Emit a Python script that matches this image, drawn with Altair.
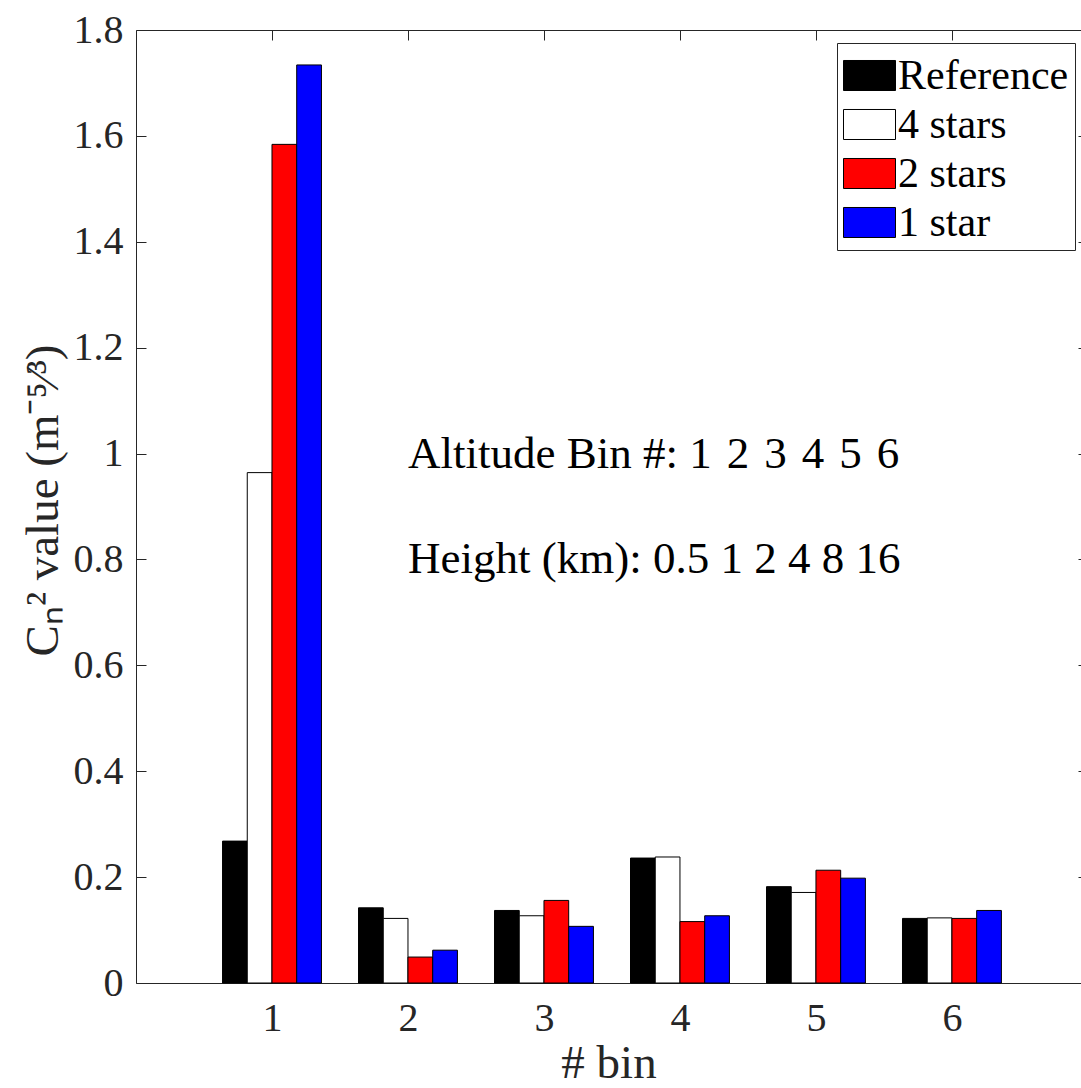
import altair as alt
import pandas as pd

# ---------------- data ----------------
bins = [1, 2, 3, 4, 5, 6]
series_names = ["Reference", "4 stars", "2 stars", "1 star"]
series_colors = ["#000000", "#ffffff", "#ff0000", "#0000ff"]
reference = [0.268, 0.142, 0.137, 0.236, 0.182, 0.122]
four_stars = [0.964, 0.122, 0.127, 0.238, 0.171, 0.123]
two_stars = [1.584, 0.049, 0.156, 0.116, 0.213, 0.122]
one_star = [1.734, 0.062, 0.107, 0.127, 0.198, 0.137]
x_ticks = [1, 2, 3, 4, 5, 6]
y_ticks = [0, 0.2, 0.4, 0.6, 0.8, 1.0, 1.2, 1.4, 1.6, 1.8]
note_lines = [
    "Altitude Bin #:  1\u20042\u20043\u20044\u20045\u20046",
    "Height (km):  0.5 1 2 4 8 16",
]
note_x = [2, 2]
note_y = [1.0, 0.8]

rows = []
for k, (name, vals) in enumerate(zip(series_names, [reference, four_stars, two_stars, one_star])):
    for b, v in zip(bins, vals):
        rows.append({"bin": b, "series": name, "k": k, "value": v})
df = pd.DataFrame(rows)
notes_df = pd.DataFrame({"x": note_x, "y": note_y, "label": note_lines})

# ---------------- style ----------------
FONT = "Liberation Serif"
INK = "#262626"
W, H = 945, 953
XMAX = 6.949
BAR_W = (4 / 5.5) / 4  # MATLAB grouped bar width

xscale = alt.Scale(domain=[0, XMAX], nice=False, zero=False)
yscale = alt.Scale(domain=[0, 1.8], nice=False, zero=False)

bars = (
    alt.Chart(df)
    .transform_calculate(
        x0=f"datum.bin + (datum.k - 1.5) * {BAR_W} - {BAR_W / 2}",
        x1=f"datum.bin + (datum.k - 1.5) * {BAR_W} + {BAR_W / 2}",
    )
    .mark_bar(stroke="black", strokeWidth=1, opacity=1)
    .encode(
        x=alt.X(
            "x0:Q",
            scale=xscale,
            axis=alt.Axis(
                values=x_ticks, format="d", ticks=False, tickSize=0, labelPadding=15,
                labelFont=FONT, labelFontSize=40, labelColor=INK, labelFlush=False,
                labelOverlap=False, domainColor=INK, domainWidth=1, grid=False,
                title="# bin", titleFont=FONT, titleFontSize=47, titleFontWeight="normal",
                titleColor=INK, titleY=94, titleBaseline="alphabetic",
            ),
        ),
        x2="x1:Q",
        y=alt.Y(
            "value:Q",
            scale=yscale,
            axis=alt.Axis(
                values=y_ticks, format="~g", ticks=False, tickSize=0, labelPadding=13,
                labelFont=FONT, labelFontSize=40, labelColor=INK, labelFlush=False,
                labelOverlap=False, domainColor=INK, domainWidth=1, grid=False,
                title="Cₙ² value (m⁻⁵⁄³)", titleFont=FONT, titleFontSize=47,
                titleFontWeight="normal", titleColor=INK, titleX=-93, titleY=470,
                titleAngle=270, titleBaseline="middle", titleAlign="center",
            ),
        ),
        y2=alt.datum(0),
        color=alt.Color(
            "series:N",
            scale=alt.Scale(domain=series_names, range=series_colors),
            legend=alt.Legend(
                title=None, orient="none", legendX=701, legendY=13,
                symbolType="M-1,-0.577H1V0.577H-1Z", symbolSize=2704,
                symbolStrokeColor="black", symbolStrokeWidth=1, symbolOpacity=1,
                labelFont=FONT, labelFontSize=42, labelColor="black", labelOffset=2,
                labelLimit=400, rowPadding=1, padding=6, strokeColor=INK,
                fillColor="white",
            ),
        ),
    )
)

notes = (
    alt.Chart(notes_df)
    .mark_text(align="left", baseline="middle", font=FONT, fontSize=45, color="black")
    .encode(
        x=alt.X(
            "x:Q", scale=xscale,
            axis=alt.Axis(orient="top", offset=-H, values=x_ticks, labels=False,
                          domain=False, ticks=True, tickSize=10, tickColor=INK,
                          title=None, grid=False),
        ),
        y=alt.Y(
            "y:Q", scale=yscale,
            axis=alt.Axis(orient="right", offset=-W, values=y_ticks, labels=False,
                          domain=False, ticks=True, tickSize=10, tickColor=INK,
                          title=None, grid=False),
        ),
        text="label:N",
    )
)

frame = (
    alt.Chart(notes_df)
    .mark_point(opacity=0)
    .encode(
        x=alt.X(
            "x:Q", scale=xscale,
            axis=alt.Axis(orient="bottom", offset=-H, values=x_ticks, labels=False,
                          domain=True, domainColor=INK, domainWidth=1, ticks=True,
                          tickSize=10, tickColor=INK, title=None, grid=False),
        ),
        y=alt.Y(
            "y:Q", scale=yscale,
            axis=alt.Axis(orient="left", offset=-W, values=y_ticks, labels=False,
                          domain=False, ticks=True, tickSize=3, tickColor=INK,
                          title=None, grid=False),
        ),
    )
)

chart = (
    alt.layer(bars, notes, frame)
    .resolve_axis(x="independent", y="independent")
    .properties(
        width=W, height=H,
        padding={"left": 136, "top": 30, "right": 0, "bottom": 105},
        autosize=alt.AutoSizeParams(type="none"),
        background="white",
    )
    .configure_view(stroke=None)
)

chart.save("out.html", embed_options={"renderer": "svg", "actions": False})
